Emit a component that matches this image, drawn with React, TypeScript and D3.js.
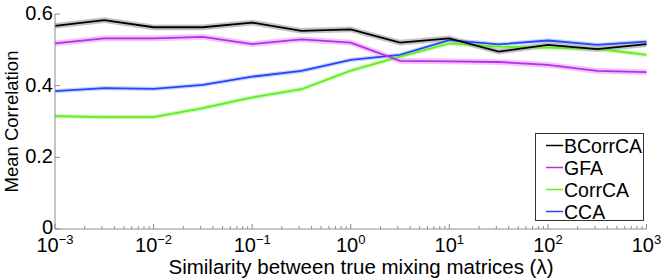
import React, { useEffect, useRef } from "react";
import * as d3 from "d3";

// lambda exponents (half decades from 1e-3 to 1e3)
const lambdaExp = [-3, -2.5, -2, -1.5, -1, -0.5, 0, 0.5, 1, 1.5, 2, 2.5, 3];

const bcorrca = [0.567, 0.583, 0.563, 0.563, 0.576, 0.553, 0.557, 0.52, 0.532, 0.495, 0.514, 0.502, 0.516];
const gfa = [0.518, 0.532, 0.532, 0.536, 0.516, 0.529, 0.52, 0.469, 0.468, 0.466, 0.458, 0.441, 0.438];
const corrca = [0.315, 0.312, 0.312, 0.337, 0.367, 0.39, 0.442, 0.481, 0.518, 0.509, 0.506, 0.503, 0.486];
const cca = [0.385, 0.393, 0.391, 0.402, 0.425, 0.441, 0.472, 0.486, 0.527, 0.515, 0.526, 0.514, 0.523];

// standard error (half width of shaded band)
const bcorrcaErr = [0.008, 0.008, 0.008, 0.008, 0.008, 0.008, 0.008, 0.008, 0.008, 0.008, 0.008, 0.008, 0.008];
const gfaErr = [0.008, 0.008, 0.008, 0.008, 0.008, 0.008, 0.008, 0.008, 0.008, 0.008, 0.008, 0.008, 0.008];
const corrcaErr = [0.006, 0.006, 0.006, 0.006, 0.006, 0.006, 0.006, 0.006, 0.006, 0.006, 0.006, 0.006, 0.006];
const ccaErr = [0.006, 0.006, 0.006, 0.006, 0.006, 0.006, 0.006, 0.006, 0.006, 0.006, 0.006, 0.006, 0.006];

const seriesNames = ["BCorrCA", "GFA", "CorrCA", "CCA"];
const yTicks = [0, 0.2, 0.4, 0.6];
const xTickExp = [-3, -2, -1, 0, 1, 2, 3];

const W = 664;
const H = 279;
const FONT = "'Liberation Sans', Arial, Helvetica, sans-serif";

export default function App() {
  const ref = useRef<SVGSVGElement>(null);

  useEffect(() => {
    const svg = d3.select(ref.current);
    svg.selectAll("*").remove();

    const x = d3.scaleLog().domain([1e-3, 1e3]).range([55, 646.5]);
    const y = d3.scaleLinear().domain([0, 0.6]).range([229, 14]);
    const xs = lambdaExp.map((e) => Math.pow(10, e));

    const series = [
      { name: seriesNames[0], vals: bcorrca, err: bcorrcaErr, line: "#000000", band: "#b8b8b8" },
      { name: seriesNames[1], vals: gfa, err: gfaErr, line: "#b52ef0", band: "#f3b9f9" },
      { name: seriesNames[2], vals: corrca, err: corrcaErr, line: "#5ef01e", band: "#c6f7ad" },
      { name: seriesNames[3], vals: cca, err: ccaErr, line: "#2446ff", band: "#c2cbff" },
    ];

    const area = d3
      .area<number>()
      .x((_, i) => x(xs[i]));
    const line = d3
      .line<number>()
      .x((_, i) => x(xs[i]))
      .y((d) => y(d));

    const plot = svg.append("g");
    // bands
    [...series].reverse().forEach((s) => {
      plot
        .append("path")
        .datum(s.vals)
        .attr("fill", s.band)
        .attr("fill-opacity", 0.85)
        .attr(
          "d",
          area.y0((d, i) => y(d - s.err[i])).y1((d, i) => y(d + s.err[i]))
        );
    });
    // lines
    [...series].reverse().forEach((s) => {
      plot
        .append("path")
        .datum(s.vals)
        .attr("fill", "none")
        .attr("stroke", s.line)
        .attr("stroke-width", 1.8)
        .attr("d", line);
    });

    // axes
    const axisColor = "#8c8c8c";
    const ax = svg.append("g");
    ax.append("line")
      .attr("x1", x(1e-3)).attr("x2", x(1e-3))
      .attr("y1", y(0)).attr("y2", y(0.6))
      .attr("stroke", axisColor).attr("stroke-width", 1);
    ax.append("line")
      .attr("x1", x(1e-3)).attr("x2", x(1e3))
      .attr("y1", y(0)).attr("y2", y(0))
      .attr("stroke", axisColor).attr("stroke-width", 1);

    yTicks.forEach((t) => {
      ax.append("line")
        .attr("x1", x(1e-3)).attr("x2", x(1e-3) + 5)
        .attr("y1", y(t)).attr("y2", y(t))
        .attr("stroke", axisColor);
      ax.append("text")
        .attr("x", 53)
        .attr("y", y(t) - (t === 0 ? 1.5 : 0))
        .attr("dy", "0.3em")
        .attr("text-anchor", "end")
        .attr("font-family", FONT)
        .attr("font-size", 20)
        .attr("fill", "#000")
        .text(t === 0 ? "0" : String(t));
    });

    // minor + major x ticks
    for (let e = -3; e < 3; e++) {
      for (let m = 2; m <= 9; m++) {
        const v = m * Math.pow(10, e);
        ax.append("line")
          .attr("x1", x(v)).attr("x2", x(v))
          .attr("y1", y(0)).attr("y2", y(0) - 3)
          .attr("stroke", axisColor);
      }
    }
    xTickExp.forEach((e) => {
      const v = Math.pow(10, e);
      ax.append("line")
        .attr("x1", x(v)).attr("x2", x(v))
        .attr("y1", y(0)).attr("y2", y(0) - 5)
        .attr("stroke", axisColor);
      const t = ax.append("text")
        .attr("x", x(v))
        .attr("y", 252)
        .attr("text-anchor", "middle")
        .attr("font-family", FONT)
        .attr("font-size", 20)
        .attr("fill", "#000");
      t.append("tspan").text("10");
      t.append("tspan")
        .attr("font-size", 13)
        .attr("dy", -8)
        .text(String(e).replace("-", "\u2212"));
    });

    // axis labels
    svg.append("text")
      .attr("x", 361)
      .attr("y", 273.5)
      .attr("text-anchor", "middle")
      .attr("font-family", FONT)
      .attr("font-size", 20.5)
      .attr("fill", "#000")
      .text("Similarity between true mixing matrices (\u03bb)");
    svg.append("text")
      .attr("transform", `translate(18,${(y(0) + y(0.6)) / 2}) rotate(-90)`)
      .attr("text-anchor", "middle")
      .attr("font-family", FONT)
      .attr("font-size", 18.5)
      .attr("fill", "#000")
      .text("Mean Correlation");

    // legend
    const lg = svg.append("g");
    lg.append("rect")
      .attr("x", 535.5).attr("y", 133.5)
      .attr("width", 108).attr("height", 87)
      .attr("fill", "#fff")
      .attr("stroke", "#333")
      .attr("stroke-width", 1);
    series.forEach((s, i) => {
      const ly = 145.5 + i * 22;
      lg.append("line")
        .attr("x1", 546).attr("x2", 563)
        .attr("y1", ly).attr("y2", ly)
        .attr("stroke", s.line)
        .attr("stroke-width", 1.5);
      lg.append("text")
        .attr("x", 564)
        .attr("y", ly)
        .attr("dy", "0.36em")
        .attr("font-family", FONT)
        .attr("font-size", 19.5)
        .attr("fill", "#000")
        .text(s.name);
    });
  }, []);

  return (
    <svg
      ref={ref}
      width={W}
      height={H}
      style={{ position: "absolute", left: 0, top: 0, background: "#fff" }}
    />
  );
}
